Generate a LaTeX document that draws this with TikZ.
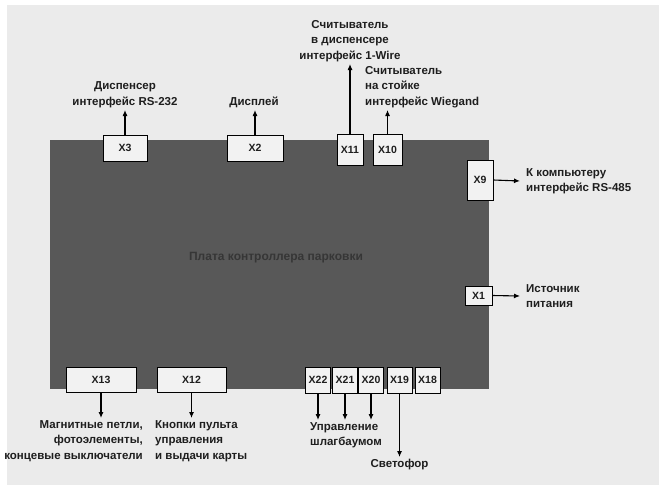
\documentclass[tikz,border=0pt]{standalone}
\usepackage{fontspec}
\setmainfont{Liberation Sans}
\usetikzlibrary{arrows.meta}
\definecolor{bgc}{HTML}{EBEBEB}
\definecolor{boardc}{HTML}{585858}
\definecolor{boxc}{HTML}{F2F2F2}
\definecolor{txtc}{HTML}{1E1E1E}
\definecolor{boardtxt}{HTML}{363636}
\tikzset{
  conn/.style={draw=black, fill=boxc, line width=0.7pt, inner sep=0pt, text=txtc,
    font=\fontsize{10.5}{12}\selectfont\bfseries},
  lbl/.style={text=txtc, inner sep=2pt, font=\fontsize{11.5}{15.5}\selectfont\bfseries},
  slbl/.style={lbl, inner xsep=6pt, inner ysep=1pt},
  arr/.style={line width=1.1pt, -{Latex[length=6pt,width=5pt]}},
}
\begin{document}
\begin{tikzpicture}[x=1pt,y=-1pt]
\useasboundingbox (0,0) rectangle (659,485);
\fill[white] (0,0) rectangle (659,485);
\fill[bgc] (7,5) rectangle (659,485);
% board
\fill[boardc] (50,140) rectangle (489,389);
\node[text=boardtxt, font=\fontsize{12}{14}\selectfont\bfseries] (board) at (276,258) {Плата контроллера парковки};
% connectors on top
\node[conn, minimum width=44, minimum height=26] (X3) at (125,148) {X3};
\node[conn, minimum width=56, minimum height=26] (X2) at (255,148) {X2};
\node[conn, minimum width=26, minimum height=31] (X11) at (350,149.5) {X11};
\node[conn, minimum width=29, minimum height=31] (X10) at (387.5,149.5) {X10};
% right side
\node[conn, minimum width=26, minimum height=40] (X9) at (480,180) {X9};
\node[conn, minimum width=27, minimum height=19] (X1) at (478.5,295.5) {X1};
% bottom
\node[conn, minimum width=70, minimum height=25] (X13) at (101,379.5) {X13};
\node[conn, minimum width=69, minimum height=25] (X12) at (191.5,379.5) {X12};
\node[conn, minimum width=25, minimum height=26] (X22) at (318,380) {X22};
\node[conn, minimum width=25, minimum height=26] (X21) at (345,380) {X21};
\node[conn, minimum width=25, minimum height=26] (X20) at (371,380) {X20};
\node[conn, minimum width=25, minimum height=26] (X19) at (399.5,380) {X19};
\node[conn, minimum width=25, minimum height=26] (X18) at (427.5,380) {X18};
% labels
\node[lbl, align=center, anchor=south] (L3) at (125,110) {Диспенсер\\интерфейс RS-232};
\node[lbl, align=center, anchor=south] (L2) at (254,110) {Дисплей};
\node[lbl, align=center, anchor=south] (L11) at (350,64) {Считыватель\\в диспенсере\\интерфейс 1-Wire};
\node[lbl, align=left, anchor=south west] (L10) at (363,110) {Считыватель\\на стойке\\интерфейс Wiegand};
\node[slbl, align=left, anchor=west] (L9) at (520,181) {К компьютеру\\интерфейс RS-485};
\node[slbl, align=left, anchor=west] (L1) at (520,296) {Источник\\питания};
\node[lbl, align=right, anchor=north east] (L13) at (145,418) {Магнитные петли,\\фотоэлементы,\\концевые выключатели};
\node[lbl, align=left, anchor=north west] (L12) at (153,418) {Кнопки пульта\\управления\\и выдачи карты};
\node[lbl, align=left, anchor=north west] (L22) at (308,420) {Управление\\шлагбаумом};
\node[lbl, align=center, anchor=north] (L19) at (399.5,457) {Светофор};
% arrows
\draw[arr] (X3.north) -- (L3.south);
\draw[arr] (X2.north) -- (X2.north |- L2.south);
\draw[arr] (X11.north) -- (L11.south);
\draw[arr] (X10.north) -- (X10.north |- L10.south);
\draw[arr] (X9.east) -- (L9.west);
\draw[arr] (X1.east) -- (L1.west);
\draw[arr] (X13.south) -- (X13.south |- L13.north);
\draw[arr] (X12.south) -- (X12.south |- L12.north);
\draw[arr] (X22.south) -- (X22.south |- L22.north);
\draw[arr] (X21.south) -- (X21.south |- L22.north);
\draw[arr] (X20.south) -- (X20.south |- L22.north);
\draw[arr] (X19.south) -- (L19.north);
\end{tikzpicture}
\end{document}
